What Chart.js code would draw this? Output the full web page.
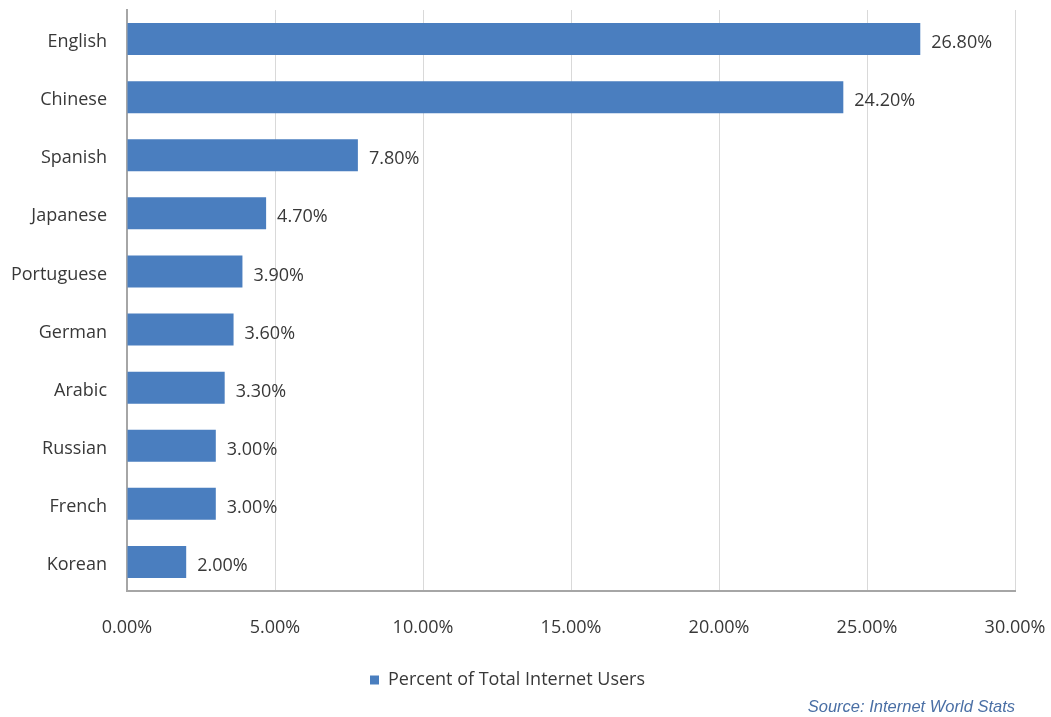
<!DOCTYPE html>
<html>
<head>
<meta charset="utf-8">
<script src="https://cdn.jsdelivr.net/npm/chart.js@4"></script>
<style>
  body { margin: 0; background: #fff; }
  #wrap { position: relative; width: 1051px; height: 717px; }
  #source {
    position: absolute; right: 36px; top: 697px;
    font-family: "Liberation Sans Narrow", "Liberation Sans", sans-serif;
    font-style: italic; font-size: 16.5px; color: #4a6fa5;
  }
</style>
</head>
<body>
<div id="wrap">
  <canvas id="myChart" width="1051" height="717"></canvas>
  <div id="source">Source: Internet World Stats</div>
</div>
<script>
const languages = ['English','Chinese','Spanish','Japanese','Portuguese','German','Arabic','Russian','French','Korean'];
const percents = [26.8, 24.2, 7.8, 4.7, 3.9, 3.6, 3.3, 3.0, 3.0, 2.0];
const xTicks = [0, 5, 10, 15, 20, 25, 30];

const barColor = '#4a7ebf';
const textColor = '#383838';
const fontFamily = '"Open Sans", sans-serif';
const fontSize = 18;

// value labels at the end of each bar
const valueLabels = {
  id: 'valueLabels',
  afterDatasetsDraw(chart) {
    const ctx = chart.ctx;
    const meta = chart.getDatasetMeta(0);
    ctx.save();
    ctx.font = fontSize + 'px ' + fontFamily;
    ctx.fillStyle = textColor;
    ctx.textBaseline = 'middle';
    ctx.textAlign = 'left';
    meta.data.forEach((bar, i) => {
      ctx.fillText(percents[i].toFixed(2) + '%', bar.x + 11, bar.y + 4);
    });
    ctx.restore();
  }
};

const data = {
  labels: languages,
  datasets: [{
    label: 'Percent of Total Internet Users',
    data: percents,
    backgroundColor: barColor,
    borderWidth: 0,
    barPercentage: 1,
    categoryPercentage: 0.55
  }]
};

const config = {
  type: 'bar',
  data: data,
  options: {
    indexAxis: 'y',
    responsive: false,
    animation: false,
    layout: { padding: { top: 10, right: 36, left: 0, bottom: 18 } },
    scales: {
      x: {
        min: 0,
        max: 30,
        afterBuildTicks(scale) { scale.ticks = xTicks.map(v => ({ value: v })); },
        afterFit(scale) {
          scale.height = 68;
          scale.paddingLeft = 0;
          scale.paddingRight = 0;
        },
        ticks: {
          callback: v => v.toFixed(2) + '%',
          color: textColor,
          font: { family: fontFamily, size: fontSize },
          padding: 26
        },
        grid: { color: '#d9d9d9', drawTicks: false },
        border: { color: '#a6a6a6', width: 2 }
      },
      y: {
        afterFit(scale) {
          scale.width = 127;
          scale.paddingTop = 0;
          scale.paddingBottom = 0;
        },
        ticks: {
          color: textColor,
          font: { family: fontFamily, size: fontSize },
          padding: 20,
          labelOffset: 3
        },
        grid: { display: false, drawTicks: false },
        border: { color: '#a6a6a6', width: 2 }
      }
    },
    plugins: {
      legend: {
        position: 'bottom',
        labels: {
          color: textColor,
          font: { family: fontFamily, size: fontSize },
          boxWidth: 9,
          boxHeight: 9,
          padding: 12
        }
      },
      tooltip: { enabled: false }
    }
  },
  plugins: [valueLabels]
};

var myChart = new Chart(document.getElementById('myChart'), config);
</script>
</body>
</html>
